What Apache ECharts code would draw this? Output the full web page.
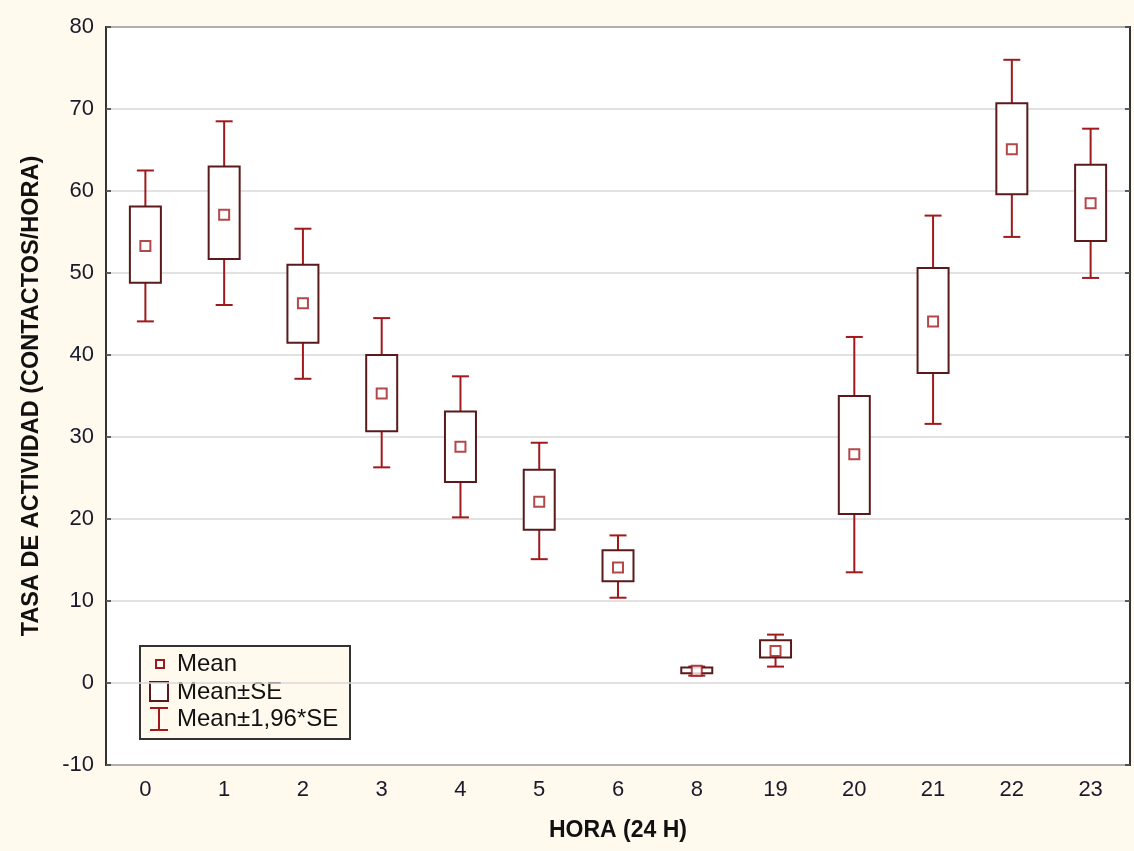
<!DOCTYPE html>
<html>
<head>
<meta charset="utf-8">
<script src="https://cdn.jsdelivr.net/npm/echarts@6/dist/echarts.min.js"></script>
<style>
  html, body { margin: 0; padding: 0; background: #fff9ee; }
  #chart { width: 1134px; height: 851px; }
</style>
</head>
<body>
<div id="chart"></div>
<script>
var chart = echarts.init(document.getElementById('chart'));

// hour of day
const hours = ['0', '1', '2', '3', '4', '5', '6', '8', '19', '20', '21', '22', '23'];
// mean activity rate
const means = [53.3, 57.1, 46.3, 35.3, 28.8, 22.1, 14.1, 1.5, 3.9, 27.9, 44.1, 65.1, 58.5];
// mean - SE / mean + SE
const seLow = [48.8, 51.7, 41.5, 30.7, 24.5, 18.7, 12.4, 1.2, 3.1, 20.6, 37.8, 59.6, 53.9];
const seHigh = [58.1, 63.0, 51.0, 40.0, 33.1, 26.0, 16.2, 1.9, 5.2, 35.0, 50.6, 70.7, 63.2];
// mean - 1.96*SE / mean + 1.96*SE
const ciLow = [44.1, 46.1, 37.1, 26.3, 20.2, 15.1, 10.4, 0.9, 2.0, 13.5, 31.6, 54.4, 49.4];
const ciHigh = [62.5, 68.5, 55.4, 44.5, 37.4, 29.3, 18.0, 2.0, 5.9, 42.2, 57.0, 76.0, 67.6];

const RED = '#a01a1d';
const DARK = '#5a1a1c';
const FONT = "'Liberation Sans', Arial, sans-serif";

var whiskerData = hours.map(function (h, i) { return [i, ciLow[i], ciHigh[i]]; });
var boxData = hours.map(function (h, i) { return [i, seLow[i], seHigh[i]]; });
var meanData = hours.map(function (h, i) { return [i, means[i]]; });

function renderWhisker(params, api) {
  var x = api.value(0);
  var top = api.coord([x, api.value(2)]);
  var bot = api.coord([x, api.value(1)]);
  var half = 8.5;
  var st = { stroke: RED, lineWidth: 2 };
  return {
    type: 'group',
    children: [
      { type: 'line', shape: { x1: top[0], y1: top[1], x2: bot[0], y2: bot[1] }, style: st },
      { type: 'line', shape: { x1: top[0] - half, y1: top[1], x2: top[0] + half, y2: top[1] }, style: st },
      { type: 'line', shape: { x1: bot[0] - half, y1: bot[1], x2: bot[0] + half, y2: bot[1] }, style: st }
    ]
  };
}

function renderBox(params, api) {
  var x = api.value(0);
  var top = api.coord([x, api.value(2)]);
  var bot = api.coord([x, api.value(1)]);
  var w = 31;
  return {
    type: 'rect',
    shape: { x: top[0] - w / 2, y: top[1], width: w, height: bot[1] - top[1] },
    style: { fill: '#fff', stroke: DARK, lineWidth: 2 }
  };
}

var option = {
  backgroundColor: '#fff9ee',
  animation: false,
  textStyle: { fontFamily: FONT },
  grid: {
    left: 106, right: 4, top: 27, bottom: 86,
    show: true, backgroundColor: '#fff', borderColor: '#333', borderWidth: 2
  },
  xAxis: [{
    type: 'category',
    data: hours,
    position: 'bottom',
    name: 'HORA (24 H)',
    nameLocation: 'middle',
    nameGap: 54,
    nameTextStyle: { fontFamily: FONT, fontSize: 23, fontWeight: 'bold', color: '#111' },
    axisLine: { show: false },
    axisTick: { inside: true, length: 5, alignWithLabel: true, lineStyle: { color: '#333', width: 1.5 } },
    axisLabel: { fontFamily: FONT, fontSize: 22, color: '#1a1a2a', margin: 14 },
    splitLine: { show: false }
  }, {
    type: 'category',
    data: hours,
    position: 'top',
    axisLine: { show: false },
    axisTick: { inside: true, length: 5, alignWithLabel: true, lineStyle: { color: '#333', width: 1.5 } },
    axisLabel: { show: false }
  }],
  yAxis: [{
    type: 'value',
    min: -10, max: 80, interval: 10,
    position: 'left',
    name: 'TASA DE ACTIVIDAD (CONTACTOS/HORA)',
    nameLocation: 'middle',
    nameGap: 62,
    nameTextStyle: { fontFamily: FONT, fontSize: 23.5, fontWeight: 'bold', color: '#111' },
    axisLine: { show: false },
    axisTick: { show: true, inside: true, length: 5, lineStyle: { color: '#333', width: 1.5 } },
    axisLabel: { fontFamily: FONT, fontSize: 22, color: '#1a1a2a', margin: 12 },
    splitLine: { show: true, lineStyle: { color: '#d9d9d9', width: 1.5 } }
  }, {
    type: 'value',
    min: -10, max: 80, interval: 10,
    position: 'right',
    axisLine: { show: false },
    axisTick: { show: true, inside: true, length: 5, lineStyle: { color: '#333', width: 1.5 } },
    axisLabel: { show: false },
    splitLine: { show: false }
  }],
  series: [{
    name: 'Mean±1,96*SE',
    type: 'custom',
    renderItem: renderWhisker,
    encode: { x: 0, y: [1, 2] },
    data: whiskerData
  }, {
    name: 'Mean±SE',
    type: 'custom',
    renderItem: renderBox,
    encode: { x: 0, y: [1, 2] },
    data: boxData
  }, {
    name: 'Mean',
    type: 'scatter',
    symbol: 'rect',
    symbolSize: 10,
    itemStyle: { color: '#fff', borderColor: RED, borderWidth: 2 },
    data: meanData
  }],
  graphic: [{
    type: 'group',
    left: 139, top: 645,
    children: [
      { type: 'rect', shape: { x: 0, y: 0, width: 210, height: 93 },
        style: { fill: '#fff9ee', stroke: '#333', lineWidth: 2 } },
      { type: 'rect', shape: { x: 16, y: 14, width: 8, height: 8 },
        style: { fill: '#fff', stroke: RED, lineWidth: 2 } },
      { type: 'text', x: 37, y: 18,
        style: { text: 'Mean', font: '24px ' + FONT, fill: '#111', verticalAlign: 'middle' } },
      { type: 'rect', shape: { x: 10, y: 36, width: 18, height: 19 },
        style: { fill: '#fff', stroke: DARK, lineWidth: 2 } },
      { type: 'text', x: 37, y: 46,
        style: { text: 'Mean±SE', font: '24px ' + FONT, fill: '#111', verticalAlign: 'middle' } },
      { type: 'line', shape: { x1: 19, y1: 62, x2: 19, y2: 84 }, style: { stroke: RED, lineWidth: 2 } },
      { type: 'line', shape: { x1: 10, y1: 62, x2: 28, y2: 62 }, style: { stroke: RED, lineWidth: 2 } },
      { type: 'line', shape: { x1: 10, y1: 84, x2: 28, y2: 84 }, style: { stroke: RED, lineWidth: 2 } },
      { type: 'text', x: 37, y: 73,
        style: { text: 'Mean±1,96*SE', font: '24px ' + FONT, fill: '#111', verticalAlign: 'middle' } }
    ]
  }]
};

chart.setOption(option);
</script>
</body>
</html>
